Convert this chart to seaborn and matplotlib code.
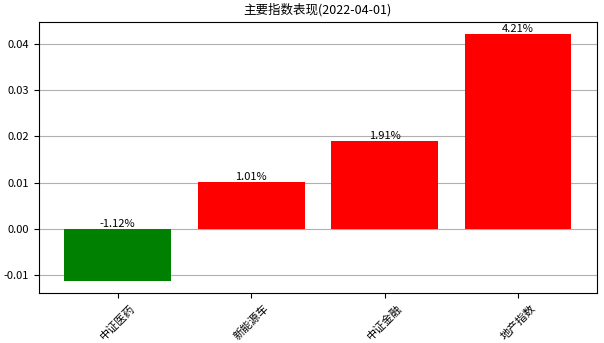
import matplotlib
matplotlib.use("Agg")
import matplotlib.pyplot as plt
import seaborn as sns
import pandas as pd

categories = ["中证医药", "新能源车", "中证金融", "地产指数"]
values = [-0.0112, 0.0101, 0.0191, 0.0421]
title = "主要指数表现(2022-04-01)"

plt.rcParams['font.family'] = ['Noto Sans CJK SC', 'DejaVu Sans']
plt.rcParams['axes.unicode_minus'] = False

df = pd.DataFrame({"name": categories, "value": values})
colors = ["#008000" if v < 0 else "#FF0000" for v in values]

fig = plt.figure(figsize=(6.04, 3.43), dpi=100)
ax = fig.add_axes([0.0646, 0.146, 0.9234, 0.79])
sns.barplot(data=df, x="name", y="value", hue="name", palette=colors,
            legend=False, ax=ax, width=0.8, saturation=1)
ax.set_xlim(-0.59, 3.59)
ax.set_ylim(-0.01387, 0.04477)
ax.set_xlabel("")
ax.set_ylabel("")
ax.grid(axis="y", color="#b0b0b0", linewidth=0.8)
ax.set_axisbelow(True)
for i, v in enumerate(values):
    ax.text(i, max(v, 0), f"{v*100:.2f}%", ha="center", va="bottom", fontsize=8)
ax.set_title(title, fontsize=9)
plt.setp(ax.get_xticklabels(), rotation=45, fontsize=8)
plt.setp(ax.get_yticklabels(), fontsize=8)
fig.savefig("out.png", dpi=100)
